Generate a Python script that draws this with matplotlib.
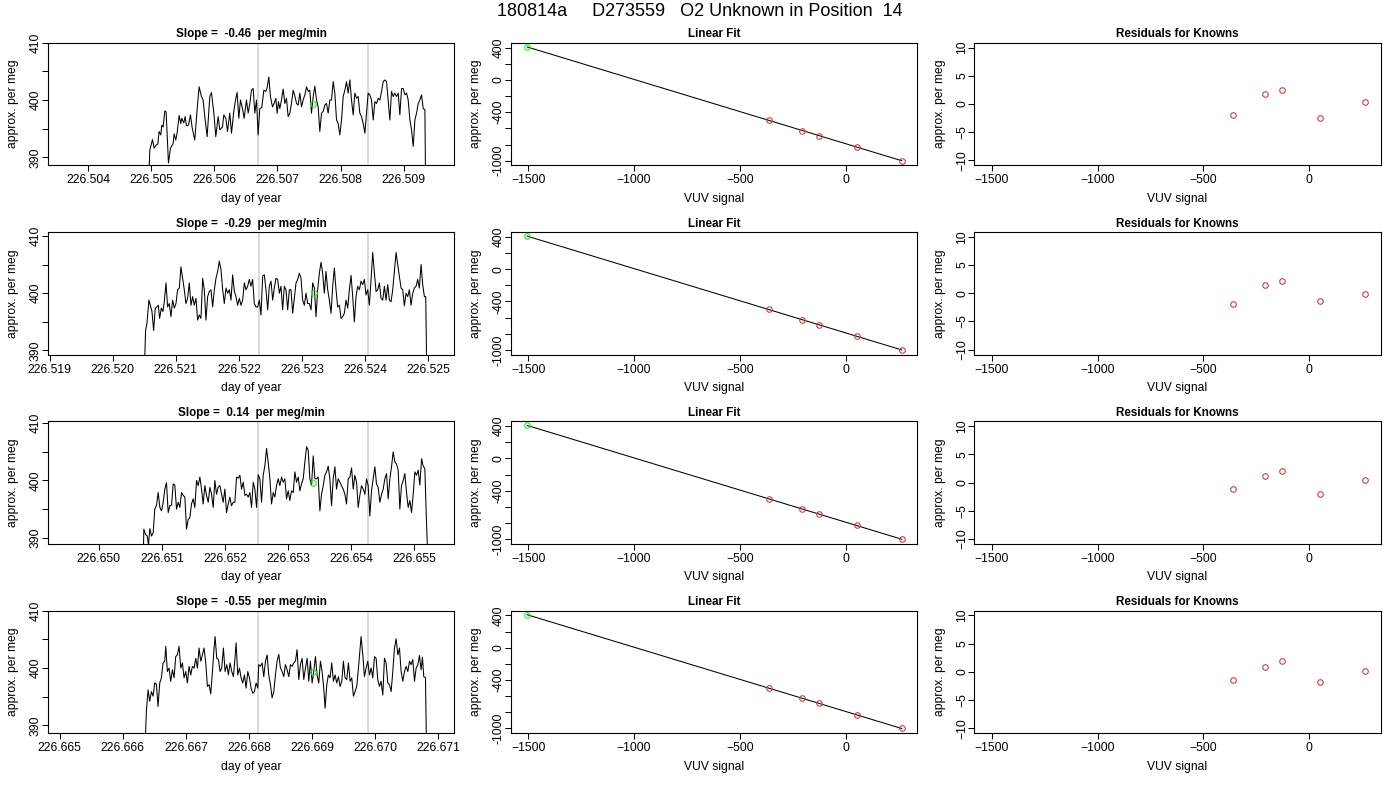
import numpy as np
import matplotlib
matplotlib.use("Agg")
import matplotlib.pyplot as plt
from matplotlib.ticker import MultipleLocator, FormatStrFormatter

plt.rcParams["font.family"] = ["Liberation Sans", "DejaVu Sans"]

TITLE = "180814a     D273559   O2 Unknown in Position  14"

# ---- time series (one per row): offsets in micro-days from base day, values in per meg ----
TS_BASE = [226.504, 226.519, 226.650, 226.665]
TS_XLIM = [(226.50336, 226.50980), (226.51897, 226.52541), (226.64919, 226.65563), (226.66481, 226.67125)]
SLOPES = [-0.46, -0.29, 0.14, -0.55]
GRAY_LINES = [(226.506695, 226.508433), (226.522313, 226.524051), (226.652525, 226.654263), (226.668144, 226.669882)]
UNK_TIME = [226.507566, 226.523184, 226.653396, 226.669015]
UNK_VALUE = [399.3, 400.0, 399.65, 399.35]

off1 = [961, 977, 1020, 1046, 1083, 1104, 1125, 1152, 1167, 1189, 1215, 1236, 1273, 1305, 1347, 1363, 1389, 1410, 1442, 1469,
        1485, 1516, 1537, 1558, 1590, 1622, 1648, 1690, 1727, 1759, 1796, 1822, 1849, 1886, 1928, 1954, 1992, 2023, 2060, 2087,
        2129, 2150, 2182, 2208, 2245, 2272, 2308, 2340, 2361, 2388, 2414, 2446, 2472, 2509, 2536, 2562, 2588, 2615, 2641, 2668,
        2694, 2720, 2752, 2784, 2816, 2837, 2863, 2889, 2921, 2948, 2974, 2995, 3016, 3037, 3064, 3090, 3117, 3143, 3169, 3196,
        3222, 3249, 3275, 3302, 3328, 3354, 3381, 3407, 3434, 3460, 3487, 3513, 3539, 3566, 3592, 3619, 3645, 3671, 3698, 3724,
        3751, 3777, 3803, 3830, 3856, 3883, 3909, 3936, 3962, 3988, 4015, 4041, 4068, 4094, 4120, 4147, 4173, 4200, 4226, 4253,
        4279, 4305, 4332, 4358, 4385, 4411, 4437, 4464, 4490, 4517, 4543, 4570, 4596, 4622, 4649, 4675, 4702, 4728, 4754, 4781,
        4807, 4834, 4860, 4886, 4913, 4939, 4966, 4992, 5018, 5045, 5071, 5098, 5124, 5151, 5177, 5203, 5230, 5256, 5283, 5309,
        5336, 5346]
val1 = [386.0, 391.2, 393.1, 391.6, 392.2, 392.3, 394.5, 393.9, 395.6, 395.3, 398.1, 397.9, 389.0, 391.6, 392.4, 394.1, 393.0, 394.2, 397.3, 395.9,
        396.8, 396.0, 397.1, 395.5, 395.6, 397.4, 395.2, 393.0, 398.3, 402.3, 400.6, 400.0, 397.1, 393.6, 400.6, 401.3, 397.7, 393.6, 397.1, 394.8,
        395.3, 397.4, 396.8, 394.5, 397.7, 394.2, 398.0, 400.3, 401.3, 396.8, 400.0, 398.5, 396.8, 400.0, 397.7, 399.4, 401.7, 402.0, 397.7, 400.0,
        393.9, 398.5, 398.7, 401.7, 401.5, 402.2, 404.0, 400.6, 398.8, 399.4, 400.3, 397.7, 399.7, 398.5, 400.0, 401.9, 399.4, 400.3, 397.1, 397.7,
        399.4, 401.7, 400.7, 399.4, 399.1, 401.2, 398.8, 400.0, 400.9, 402.3, 401.5, 401.7, 397.7, 400.6, 402.4, 400.0, 398.8, 394.5, 397.7, 398.0,
        399.1, 399.4, 397.7, 400.0, 400.0, 403.2, 401.2, 396.5, 395.9, 393.9, 396.5, 400.6, 401.7, 403.2, 401.2, 403.5, 400.0, 397.4, 401.2, 400.3,
        400.6, 397.7, 397.1, 395.9, 394.2, 397.7, 401.2, 400.9, 400.0, 396.5, 399.7, 399.4, 400.3, 400.0, 401.5, 403.2, 403.5, 403.2, 400.0, 396.5,
        401.5, 400.6, 401.2, 400.6, 401.2, 397.4, 402.0, 402.0, 400.9, 401.2, 400.0, 396.5, 394.8, 391.9, 396.5, 397.7, 399.4, 400.0, 400.9, 398.5,
        398.3, 386.0]

off2 = [1500, 1521, 1542, 1574, 1595, 1622, 1648, 1674, 1701, 1722, 1743, 1770, 1796, 1817, 1844, 1870, 1896, 1923, 1949, 1976,
        2002, 2028, 2055, 2081, 2108, 2134, 2160, 2187, 2213, 2240, 2266, 2292, 2319, 2345, 2372, 2398, 2425, 2451, 2477, 2504,
        2530, 2557, 2583, 2610, 2636, 2663, 2689, 2715, 2742, 2768, 2795, 2821, 2847, 2874, 2900, 2927, 2953, 2979, 3006, 3032,
        3059, 3085, 3111, 3138, 3164, 3191, 3217, 3243, 3270, 3296, 3323, 3349, 3376, 3402, 3428, 3455, 3481, 3508, 3534, 3560,
        3587, 3613, 3640, 3666, 3692, 3719, 3745, 3772, 3798, 3824, 3851, 3877, 3904, 3930, 3957, 3983, 4009, 4036, 4062, 4089,
        4115, 4142, 4168, 4194, 4221, 4247, 4274, 4300, 4326, 4353, 4379, 4406, 4432, 4459, 4485, 4511, 4538, 4564, 4591, 4617,
        4643, 4670, 4696, 4723, 4749, 4776, 4802, 4828, 4855, 4881, 4908, 4934, 4960, 4987, 5013, 5040, 5066, 5093, 5119, 5146,
        5172, 5198, 5225, 5251, 5278, 5304, 5330, 5357, 5383, 5409, 5436, 5462, 5489, 5515, 5542, 5568, 5594, 5621, 5647, 5674,
        5700, 5726, 5753, 5779, 5806, 5832, 5858, 5885, 5911, 5938, 5959, 5975]
val2 = [386.0, 393.5, 394.7, 398.8, 397.9, 396.8, 393.5, 397.4, 397.6, 397.9, 395.6, 397.4, 396.8, 398.5, 401.8, 397.6, 398.2, 395.9, 398.8, 397.4,
        398.2, 400.6, 400.9, 404.6, 402.5, 400.6, 398.2, 399.1, 401.8, 397.9, 399.4, 397.9, 399.1, 395.3, 396.2, 395.6, 402.6, 400.6, 395.3, 399.4,
        400.3, 400.6, 397.6, 400.6, 402.6, 403.8, 405.6, 404.1, 400.6, 398.2, 400.9, 400.0, 400.6, 398.8, 403.2, 400.3, 399.4, 397.9, 399.1, 397.9,
        398.8, 401.8, 400.6, 401.2, 402.4, 401.2, 402.4, 398.2, 397.6, 397.6, 398.8, 396.2, 403.0, 403.2, 400.6, 397.1, 401.2, 402.1, 398.8, 400.9,
        402.6, 402.4, 400.0, 401.2, 397.1, 401.2, 400.6, 397.1, 400.6, 400.6, 396.5, 399.1, 401.8, 402.4, 403.5, 402.6, 398.8, 397.9, 400.0, 398.2,
        398.2, 397.1, 401.8, 400.9, 395.9, 400.6, 403.5, 405.4, 403.5, 400.0, 403.8, 400.6, 398.8, 396.5, 401.2, 404.4, 400.6, 397.6, 397.9, 395.6,
        395.9, 396.5, 398.8, 397.4, 400.6, 403.1, 399.4, 395.0, 399.4, 401.2, 400.6, 402.1, 401.5, 402.4, 399.7, 400.6, 397.9, 402.4, 407.1, 403.5,
        400.3, 400.6, 401.8, 399.1, 398.8, 401.2, 398.8, 401.5, 398.8, 398.5, 400.6, 403.8, 407.1, 405.0, 402.9, 400.9, 400.6, 397.8, 400.0, 399.4,
        400.6, 397.9, 400.0, 400.9, 401.2, 402.4, 400.9, 405.0, 401.5, 399.4, 399.4, 386.0]

off3 = [703, 713, 740, 766, 787, 808, 835, 861, 887, 914, 940, 967, 993, 1020, 1046, 1072, 1099, 1125, 1152, 1178,
        1204, 1231, 1257, 1284, 1310, 1336, 1363, 1389, 1416, 1442, 1468, 1495, 1521, 1548, 1574, 1601, 1627, 1653, 1680, 1706,
        1733, 1759, 1786, 1812, 1838, 1865, 1891, 1918, 1944, 1970, 1997, 2023, 2050, 2076, 2102, 2129, 2155, 2182, 2208, 2235,
        2261, 2287, 2314, 2340, 2367, 2393, 2419, 2446, 2472, 2499, 2525, 2551, 2578, 2604, 2631, 2657, 2683, 2710, 2736, 2763,
        2789, 2815, 2842, 2868, 2895, 2921, 2947, 2974, 3000, 3026, 3053, 3079, 3106, 3132, 3159, 3185, 3211, 3238, 3264, 3291,
        3317, 3343, 3370, 3396, 3423, 3449, 3475, 3502, 3528, 3555, 3581, 3608, 3634, 3660, 3687, 3713, 3740, 3766, 3792, 3819,
        3845, 3872, 3898, 3924, 3951, 3977, 4004, 4030, 4056, 4083, 4109, 4135, 4162, 4188, 4215, 4241, 4267, 4294, 4320, 4347,
        4373, 4399, 4426, 4452, 4479, 4505, 4531, 4558, 4584, 4611, 4637, 4663, 4690, 4716, 4743, 4769, 4795, 4822, 4848, 4875,
        4901, 4928, 4954, 4980, 5007, 5033, 5060, 5086, 5113, 5139, 5165, 5186, 5213]
val3 = [386.0, 391.5, 390.6, 390.3, 388.8, 391.6, 390.3, 390.9, 395.0, 395.7, 397.9, 395.3, 394.7, 396.2, 398.5, 399.6, 394.4, 395.6, 395.7, 399.4,
        399.2, 395.0, 396.2, 395.3, 397.9, 397.4, 397.1, 391.5, 393.2, 393.5, 395.9, 396.8, 395.3, 400.0, 399.1, 400.6, 398.5, 395.9, 399.1, 397.4,
        396.2, 398.8, 397.6, 395.3, 400.0, 397.6, 398.8, 399.1, 397.6, 396.2, 398.5, 394.4, 395.9, 397.1, 395.6, 396.2, 396.2, 400.6, 400.4, 400.9,
        398.5, 399.7, 397.4, 397.6, 397.1, 397.9, 395.3, 399.7, 398.5, 395.3, 401.0, 400.3, 396.2, 400.9, 402.6, 405.6, 403.2, 400.3, 395.9, 397.9,
        397.1, 399.1, 400.3, 399.1, 400.6, 399.7, 400.3, 396.8, 398.2, 396.5, 398.2, 397.9, 401.5, 399.7, 400.6, 398.2, 399.4, 400.3, 403.2, 405.9,
        405.3, 400.3, 399.1, 404.3, 400.3, 400.3, 400.6, 394.7, 397.6, 399.1, 400.9, 401.5, 402.5, 400.3, 395.6, 400.3, 402.4, 398.5, 400.3, 399.7,
        399.1, 398.5, 397.6, 395.9, 400.3, 400.6, 402.2, 398.5, 400.9, 399.7, 395.3, 397.4, 399.1, 398.5, 397.6, 400.3, 399.1, 393.8, 398.2, 400.3,
        402.4, 399.4, 398.8, 396.2, 397.6, 398.5, 400.3, 401.2, 396.8, 400.3, 402.4, 405.0, 403.2, 402.9, 401.8, 395.0, 399.1, 400.0, 401.2, 397.9,
        395.3, 396.5, 394.4, 397.6, 401.5, 400.9, 401.8, 399.2, 403.8, 402.5, 402.1, 394.4, 386.0]

off4 = [1352, 1373, 1400, 1426, 1453, 1479, 1506, 1532, 1558, 1585, 1611, 1638, 1664, 1680, 1706, 1733, 1759, 1786, 1812, 1838,
        1865, 1891, 1918, 1944, 1970, 1997, 2023, 2050, 2076, 2102, 2129, 2155, 2182, 2208, 2235, 2261, 2287, 2314, 2340, 2367,
        2393, 2420, 2446, 2462, 2488, 2515, 2541, 2567, 2594, 2620, 2647, 2673, 2699, 2726, 2752, 2779, 2795, 2821, 2848, 2874,
        2900, 2927, 2953, 2980, 3006, 3032, 3059, 3085, 3112, 3138, 3154, 3180, 3207, 3233, 3260, 3286, 3312, 3339, 3365, 3392,
        3418, 3444, 3471, 3497, 3524, 3550, 3576, 3603, 3629, 3656, 3682, 3708, 3735, 3761, 3788, 3814, 3840, 3867, 3893, 3920,
        3946, 3972, 3999, 4025, 4052, 4078, 4104, 4131, 4157, 4183, 4205, 4231, 4257, 4284, 4310, 4337, 4363, 4389, 4416, 4442,
        4469, 4495, 4521, 4548, 4574, 4601, 4627, 4653, 4680, 4706, 4733, 4759, 4775, 4802, 4828, 4854, 4881, 4907, 4934, 4960,
        4987, 5013, 5039, 5066, 5092, 5119, 5145, 5171, 5198, 5224, 5251, 5277, 5304, 5330, 5357, 5383, 5409, 5436, 5462, 5489,
        5515, 5542, 5568, 5594, 5621, 5647, 5674, 5700, 5726, 5747, 5768, 5795, 5811]
val4 = [386.0, 392.4, 396.2, 394.2, 395.9, 395.1, 397.4, 397.2, 393.3, 397.4, 398.3, 400.9, 401.2, 403.8, 399.4, 400.0, 397.7, 399.7, 398.3, 402.0,
        402.3, 403.8, 400.0, 400.9, 398.3, 399.4, 397.4, 400.3, 398.8, 400.3, 400.0, 401.7, 400.0, 403.5, 401.2, 402.3, 403.5, 400.9, 396.8, 397.1,
        395.5, 399.4, 403.5, 405.5, 401.7, 401.5, 399.4, 400.0, 403.5, 399.4, 400.6, 398.8, 400.9, 399.4, 398.5, 402.0, 404.4, 398.8, 400.0, 398.3,
        397.4, 398.8, 396.5, 399.4, 398.3, 396.5, 395.6, 395.9, 397.4, 396.5, 400.6, 400.3, 400.9, 398.5, 401.2, 402.3, 398.8, 397.1, 394.8, 395.9,
        398.8, 401.2, 402.4, 400.0, 399.4, 398.5, 400.6, 399.7, 398.5, 400.6, 400.3, 400.9, 401.2, 403.2, 398.0, 400.6, 401.7, 398.0, 400.0, 401.7,
        397.7, 401.2, 397.4, 399.4, 402.0, 398.8, 397.4, 401.2, 399.4, 396.5, 393.0, 397.1, 398.8, 398.3, 400.9, 397.7, 398.8, 397.4, 398.5, 396.8,
        397.7, 401.2, 398.3, 398.0, 400.9, 397.7, 398.3, 395.1, 395.9, 396.8, 400.0, 403.5, 405.5, 402.3, 398.5, 400.0, 401.2, 398.8, 400.0, 398.3,
        402.0, 401.7, 398.0, 396.8, 397.7, 395.3, 401.7, 400.9, 397.4, 397.1, 395.9, 399.4, 403.5, 405.1, 402.3, 403.5, 399.4, 397.7, 399.4, 400.3,
        399.4, 401.2, 400.6, 401.5, 397.7, 400.0, 400.6, 402.2, 399.7, 401.9, 398.5, 398.3, 386.0]

TS_OFF = [off1, off2, off3, off4]
TS_VAL = [val1, val2, val3, val4]

# ---- calibration: knowns (VUV signal vs assigned per meg) and the unknown ----
KNOWN_VUV = [-361, -208, -128, 53, 265]
KNOWN_PERMEG = [-499, -628, -690, -830, -1000]
UNKNOWN_VUV = -1505
RESID = [[-2.0, 1.76, 2.4, -2.4, 0.3],
         [-2.0, 1.4, 2.1, -1.4, -0.2],
         [-1.2, 1.1, 2.0, -2.0, 0.4],
         [-1.4, 0.9, 2.0, -1.8, 0.1]]

# ---- layout (pixels of the 1400x800 figure) ----
W, H = 1400, 800
COL_L = [47.7, 510.7, 974.3]
COL_W = 406.5
ROW_T = [42.7, 231.9, 421.2, 610.5]
ROW_H = 122.6
FS = 8.7
RED = "#cf3f3f"
GREEN = "#22ee22"

fig = plt.figure(figsize=(14, 8), dpi=100)
fig.text(0.5, 1 - 11.5 / H, TITLE, ha="center", va="center", fontsize=13)


def style(ax, title, xlabel):
    for s in ax.spines.values():
        s.set_linewidth(0.8)
    ax.tick_params(direction="out", length=4, width=0.75, labelsize=FS, color="black")
    ax.tick_params(axis="x", pad=2.6)
    ax.tick_params(axis="y", pad=0.5, labelrotation=90)
    for t in ax.get_yticklabels():
        t.set_va("center")
    ax.set_title(title, fontsize=8.4, fontweight="bold", pad=3.8)
    ax.set_xlabel(xlabel, fontsize=FS)
    ax.set_ylabel("approx. per meg", fontsize=FS)
    ax.xaxis.set_label_coords(0.5, -0.225)
    ax.yaxis.set_label_coords(-0.07, 0.5)


fit = np.polyfit(KNOWN_VUV, KNOWN_PERMEG, 1)
unk_y = np.polyval(fit, UNKNOWN_VUV)
fx = np.array([UNKNOWN_VUV, max(KNOWN_VUV)])

for r in range(4):
    y0 = 1 - (ROW_T[r] + ROW_H) / H
    rect = lambda c: [COL_L[c] / W, y0, COL_W / W, ROW_H / H]

    # time series
    ax = fig.add_axes(rect(0))
    t = TS_BASE[r] + np.array(TS_OFF[r]) * 1e-6
    for g in GRAY_LINES[r]:
        ax.axvline(g, color="#d3d3d3", lw=1.2, zorder=1)
    ax.plot(t, TS_VAL[r], color="black", lw=0.75, zorder=2)
    ax.plot([UNK_TIME[r]], [UNK_VALUE[r]], "o", mfc="none", mec=GREEN, ms=4, mew=0.8, zorder=3)
    ax.set_xlim(*TS_XLIM[r])
    ax.set_ylim(UNK_VALUE[r] - 10.7, UNK_VALUE[r] + 10.7)
    ax.xaxis.set_major_locator(MultipleLocator(0.001))
    ax.xaxis.set_major_formatter(FormatStrFormatter("%.3f"))
    ax.set_yticks([390, 395, 400, 405, 410])
    ax.set_yticklabels(["390", "", "400", "", "410"])
    style(ax, "Slope =  %.2f  per meg/min" % SLOPES[r], "day of year")

    # linear fit
    ax = fig.add_axes(rect(1))
    ax.plot(fx, np.polyval(fit, fx), color="black", lw=0.75)
    ax.plot(KNOWN_VUV, KNOWN_PERMEG, "o", mfc="none", mec=RED, ms=4, mew=0.8)
    ax.plot([UNKNOWN_VUV], [unk_y], "o", mfc="none", mec=GREEN, ms=4, mew=0.8)
    ax.set_xlim(-1583, 338)
    ax.set_ylim(-1057, 460)
    ax.set_xticks([-1500, -1000, -500, 0])
    yt = list(range(-1000, 401, 200))
    ax.set_yticks(yt)
    ax.set_yticklabels([str(v) if v in (400, 0, -400, -1000) else "" for v in yt])
    style(ax, "Linear Fit", "VUV signal")

    # residuals
    ax = fig.add_axes(rect(2))
    ax.plot(KNOWN_VUV, RESID[r], "o", mfc="none", mec=RED, ms=4, mew=0.8)
    ax.set_xlim(-1583, 338)
    ax.set_ylim(-10.85, 10.85)
    ax.set_xticks([-1500, -1000, -500, 0])
    ax.set_yticks([-10, -5, 0, 5, 10])
    style(ax, "Residuals for Knowns", "VUV signal")

fig.savefig("out.png", dpi=100)
